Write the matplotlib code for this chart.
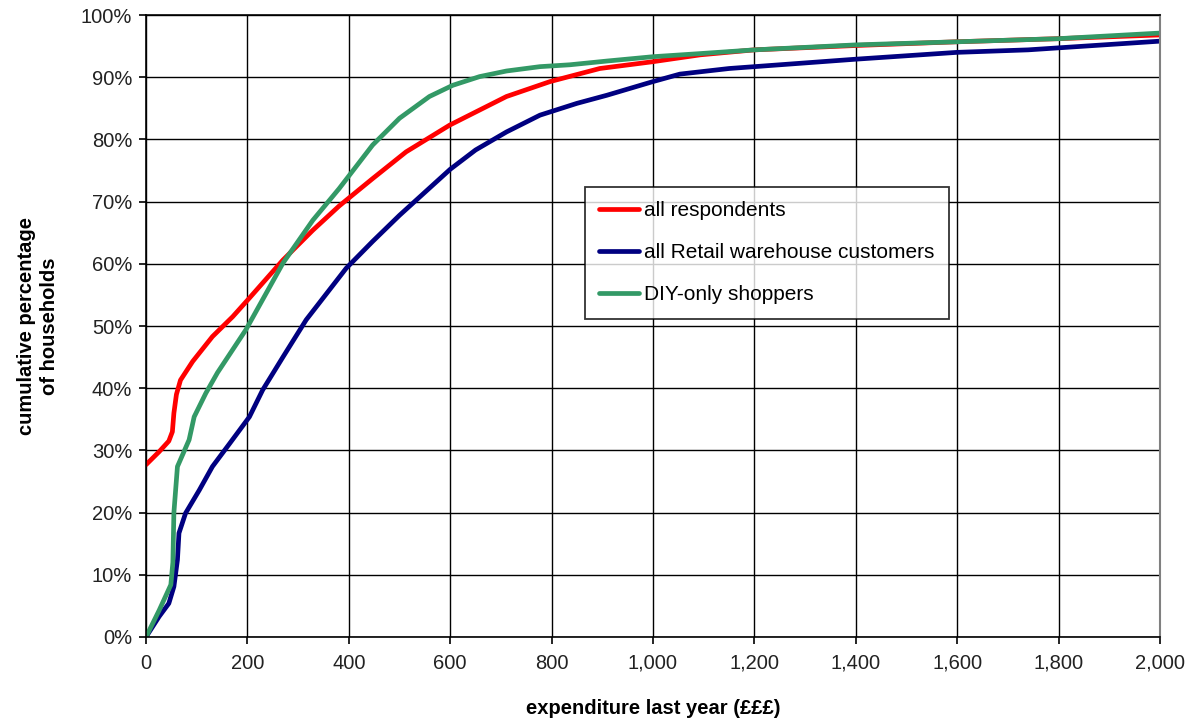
import matplotlib
matplotlib.use('Agg')
import matplotlib.pyplot as plt
from matplotlib.ticker import FuncFormatter

plt.rcParams['font.family'] = ['Liberation Sans', 'DejaVu Sans']

# expenditure last year (£) and cumulative % of households
x_all = [0, 26, 45, 52, 55, 60, 68, 92, 131, 171, 204, 270, 329, 381, 447,
         513, 599, 711, 797, 895, 1000, 1093, 1200, 1400, 1600, 1800, 2000]
y_all = [27.7, 29.8, 31.5, 33.0, 36.0, 39.0, 41.3, 44.3, 48.3, 51.5, 54.5, 60.6, 65.4, 69.3, 73.7,
         78.0, 82.3, 86.9, 89.3, 91.4, 92.5, 93.6, 94.4, 95.1, 95.7, 96.2, 96.8]

x_rw = [0, 26, 45, 55, 62, 65, 78, 105, 131, 164, 204, 230, 270, 316, 395, 447, 500, 550,
        600, 650, 711, 777, 850, 909, 1000, 1053, 1150, 1200, 1400, 1600, 1740, 2000]
y_rw = [0, 3.3, 5.4, 8.1, 12.4, 16.7, 19.9, 23.6, 27.4, 31.0, 35.4, 39.7, 45.0, 51.0, 59.3, 63.6, 67.8, 71.5,
        75.2, 78.3, 81.2, 83.9, 85.8, 87.1, 89.3, 90.5, 91.4, 91.7, 92.9, 94.0, 94.4, 95.8]

x_diy = [0, 26, 49, 53, 55, 62, 85, 95, 118, 141, 197, 270, 329, 381, 447,
         500, 559, 605, 658, 711, 777, 836, 909, 1000, 1093, 1200, 1400, 1600, 1800, 2000]
y_diy = [0, 4.3, 8.4, 12.0, 20.0, 27.4, 31.7, 35.4, 39.2, 42.5, 49.4, 60.1, 67.0, 72.1, 79.1,
         83.4, 86.9, 88.7, 90.1, 91.0, 91.7, 92.0, 92.6, 93.3, 93.8, 94.4, 95.2, 95.7, 96.2, 97.1]

labels = ['all respondents', 'all Retail warehouse customers', 'DIY-only shoppers']
colors = ['#ff0000', '#000080', '#339966']

fig = plt.figure(figsize=(11.89, 7.26), dpi=100)
ax = fig.add_axes([0.1228, 0.1226, 0.8528, 0.8567])

ax.plot(x_all, y_all, color=colors[0], lw=3.4, label=labels[0], solid_capstyle='round')
ax.plot(x_rw, y_rw, color=colors[1], lw=3.4, label=labels[1], solid_capstyle='round')
ax.plot(x_diy, y_diy, color=colors[2], lw=3.4, label=labels[2], solid_capstyle='round')

ax.set_xlim(0, 2000)
ax.set_ylim(0, 100)
ax.set_xticks(range(0, 2001, 200))
ax.set_yticks(range(0, 101, 10))
ax.xaxis.set_major_formatter(FuncFormatter(lambda v, p: f'{int(v):,}'))
ax.yaxis.set_major_formatter(FuncFormatter(lambda v, p: f'{int(v)}%'))
ax.grid(True, color='black', lw=1.0)
ax.set_axisbelow(True)
ax.tick_params(direction='out', length=5, width=1.2, labelsize=14.5, colors='black', pad=5,
               labelcolor='#222222')
ax.tick_params(axis='x', pad=7)
for s in ['left', 'bottom', 'top']:
    ax.spines[s].set_color('black')
    ax.spines[s].set_linewidth(1.2)
ax.spines['right'].set_color('#808080')
ax.spines['right'].set_linewidth(1.5)

ax.set_xlabel('expenditure last year (£££)', fontsize=14.5, fontweight='bold', labelpad=19)
ax.set_ylabel('cumulative percentage\nof households', fontsize=14.5, fontweight='bold', labelpad=16,
              linespacing=1.25)

leg = ax.legend(loc='upper left', bbox_to_anchor=(0.4325, 0.724), fontsize=15.0,
                frameon=True, fancybox=False, edgecolor='black', handlelength=1.9,
                labelspacing=1.1, borderpad=0.7, handletextpad=0.25, borderaxespad=0)
leg.get_frame().set_linewidth(1.3)

fig.savefig('out.png', dpi=100)
